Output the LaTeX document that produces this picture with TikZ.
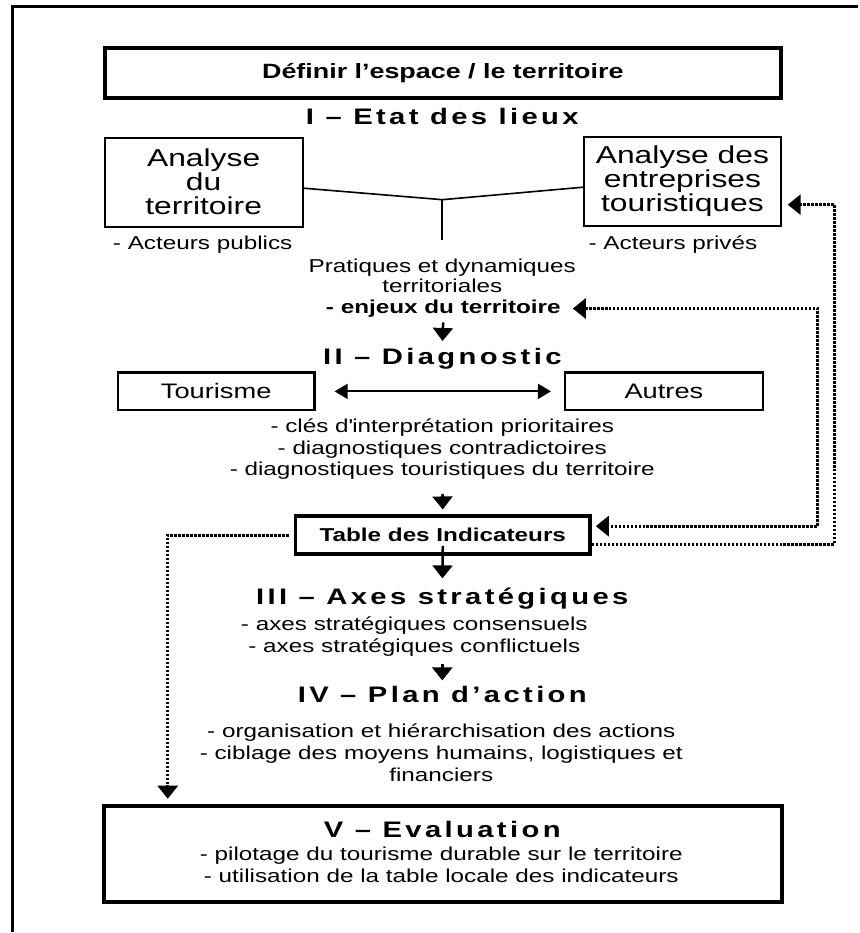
\documentclass[tikz,border=0pt]{standalone}
\usepackage{fontspec}
\setmainfont[FakeStretch=1.3]{Liberation Sans}
\newfontfamily\headfont[FakeStretch=1.3,LetterSpace=15]{Liberation Sans}
\usetikzlibrary{arrows.meta}
\tikzset{
  frame/.style={draw=black, line width=3pt},
  box/.style={draw=black, line width=2pt, inner sep=0pt, align=center, font=\fontsize{24.5}{24}\selectfont},
  boxs/.style={draw=black, line width=2.3pt, inner sep=0pt, font=\fontsize{21}{24}\selectfont},
  boxb/.style={draw=black, line width=3.5pt, inner sep=0pt},
  lab/.style={inner sep=0pt, align=center, font=\fontsize{18.7}{21.7}\selectfont},
  labb/.style={inner sep=0pt, align=center, font=\fontsize{18.7}{21.7}\selectfont\bfseries},
  head/.style={inner sep=0pt, anchor=base, font=\headfont\bfseries\fontsize{22.5}{26}\selectfont},
  link/.style={draw=black, line width=1.6pt},
  arr/.style={draw=black, line width=2.5pt, -{Triangle[width=20pt,length=13pt]}},
  dots/.style={draw=black, line width=3pt, dash pattern=on 2.5pt off 1.5pt, -{Triangle[width=20pt,length=13pt]}},
}
\begin{document}
\begin{tikzpicture}[x=1pt, y=-1pt]
  \fill[white] (0,0) rectangle (859,933);
  \draw[frame] (13,933) -- (13,7) -- (859,7);
  % I - Etat des lieux
  \node[boxb, minimum width=677pt, minimum height=50pt, font=\fontsize{20.7}{24}\selectfont\bfseries] (espace) at (443.5,73) {Définir l’espace / le territoire};
  \node[head] (etat) at (443,125) {I – Etat des lieux};
  \node[box, minimum width=198pt, minimum height=89pt] (terr) at (204,182.5) {Analyse\\du\\territoire};
  \node[box, minimum width=197pt, minimum height=89pt] (entr) at (683.5,181.5) {Analyse des\\entreprises\\touristiques};
  \node[lab] (publics) at (203,245) {- Acteurs publics};
  \node[lab] (prives) at (674,245) {- Acteurs privés};
  \coordinate (junc) at (443,200);
  \coordinate (stem) at (443,240);
  \draw[link] ([yshift=-6pt]terr.east) -- (junc) -- ([yshift=-6pt]entr.west);
  \draw[link] (junc) -- (stem);
  \node[lab, font=\fontsize{18.7}{20}\selectfont] (prat) at (443,276) {Pratiques et dynamiques\\territoriales};
  \node[labb] (enjeux) at (444,309) {- enjeux du territoire};
  % II - Diagnostic
  \node[head] (diag) at (443,365) {II – Diagnostic};
  \draw[arr, shorten <=5pt, shorten >=7pt] (enjeux.south) -- (diag.north);
  \node[boxs, minimum width=197pt, minimum height=38pt] (tour) at (216.5,392) {Tourisme};
  \node[boxs, minimum width=198pt, minimum height=38pt] (autres) at (665,392) {Autres};
  \draw[link, line width=1.8pt, {Triangle[width=15pt,length=13pt]}-{Triangle[width=15pt,length=13pt]}, shorten <=19pt, shorten >=13pt] (tour.east) -- (autres.west);
  \node[lab] (diagb) at (443,450) {- clés d\textquotesingle interprétation prioritaires\\- diagnostiques contradictoires\\- diagnostiques touristiques du territoire};
  \node[boxb, minimum width=295pt, minimum height=38pt, font=\fontsize{18.7}{21.7}\selectfont\bfseries] (table) at (443.5,536) {Table des Indicateurs};
  \draw[arr, shorten <=14pt, shorten >=5pt] (diagb.south) -- (table.north);
  % III - Axes strategiques
  \node[head] (axes) at (443,605) {III – Axes stratégiques};
  \draw[arr, shorten >=9pt] ([yshift=10pt]table.south) -- (axes.north);
  \node[lab] (axesb) at (415,637.5) {- axes stratégiques consensuels\\- axes stratégiques conflictuels};
  % IV - Plan d'action
  \node[head] (plan) at (443,704) {IV – Plan d’action};
  \draw[arr, shorten <=8pt, shorten >=6pt] (axesb.south -| plan.north) -- (plan.north);
  \node[lab] (planb) at (442,754) {- organisation et hiérarchisation des actions\\- ciblage des moyens humains, logistiques et\\financiers};
  % V - Evaluation
  \node[boxb, line width=4pt, minimum width=679pt, minimum height=96pt] (eval) at (443.5,855) {};
  \node[head] (evalh) at (443,839) {V – Evaluation};
  \node[lab] (evalb) at (442,866.5) {- pilotage du tourisme durable sur le territoire\\- utilisation de la table locale des indicateurs};
  % retours en pointilles
  \coordinate (ra) at (819,309);
  \coordinate (rb) at (836,205);
  \coordinate (rc) at (168,536);
  \draw[dots, {Triangle[width=20pt,length=13pt]}-{Triangle[width=20pt,length=13pt]}, shorten <=12pt, shorten >=4pt] (enjeux.east) -- (ra) |- ([yshift=9pt]table.east);
  \draw[dots, shorten >=6pt] ([yshift=-9pt]table.east) -| (rb) -- (rb -| entr.east);
  \draw[dots, shorten <=5pt, shorten >=5pt] (table.west) -- (rc) -- (rc |- eval.north);
\end{tikzpicture}
\end{document}
